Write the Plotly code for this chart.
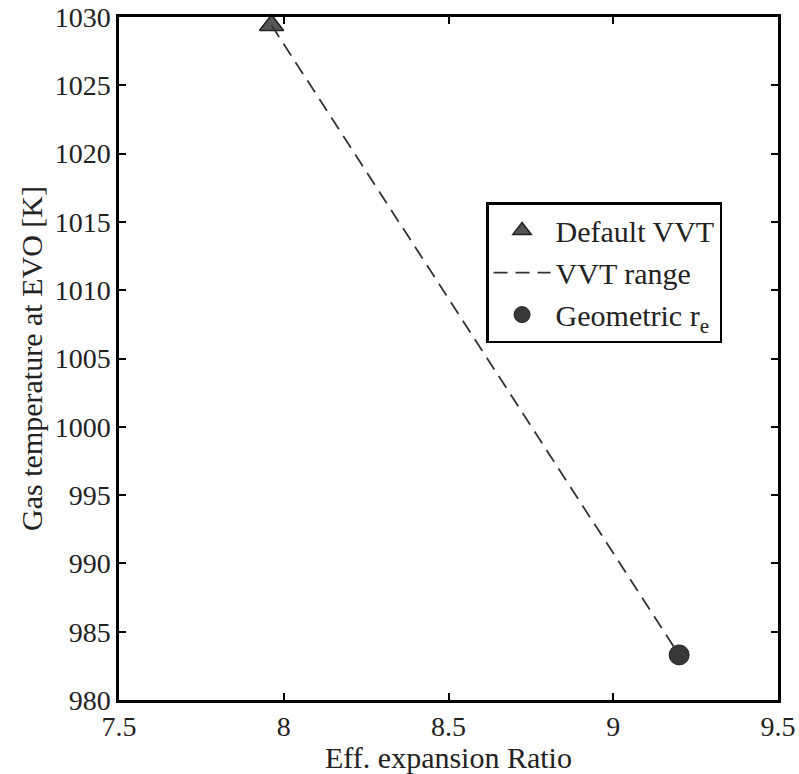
import plotly.graph_objects as go

# Data
default_x = [7.963]
default_y = [1029.4]
range_x = [7.963, 9.2]
range_y = [1029.4, 983.3]
geom_x = [9.2]
geom_y = [983.3]

x_ticks = [7.5, 8, 8.5, 9, 9.5]
x_tick_text = ["7.5", "8", "8.5", "9", "9.5"]
y_ticks = [980, 985, 990, 995, 1000, 1005, 1010, 1015, 1020, 1025, 1030]
y_tick_text = [str(v) for v in y_ticks]

FONT = "Liberation Serif, serif"

fig = go.Figure()
fig.add_trace(go.Scatter(
    x=default_x, y=default_y, mode="markers", name="Default VVT",
    cliponaxis=False,
    marker=dict(symbol="triangle-up", size=21, color="#555555",
                line=dict(color="#222222", width=1.5)),
))
fig.add_trace(go.Scatter(
    x=range_x, y=range_y, mode="lines", name="VVT range",
    line=dict(color="#333333", width=1.8, dash="14px,8px"),
))
fig.add_trace(go.Scatter(
    x=geom_x, y=geom_y, mode="markers", name="Geometric r<sub>e</sub>",
    cliponaxis=False,
    marker=dict(symbol="circle", size=20, color="#383838",
                line=dict(color="#222222", width=1)),
))

axis_common = dict(
    showline=True, linecolor="black", linewidth=2.5, mirror="ticks",
    ticks="inside", ticklen=7, tickwidth=2, tickcolor="black",
    showgrid=False, zeroline=False, automargin=False,
    tickfont=dict(family=FONT, size=28, color="#222222"),
)

fig.update_layout(
    width=799, height=774,
    margin=dict(l=119, r=21, t=17, b=74, autoexpand=False),
    paper_bgcolor="white", plot_bgcolor="white",
    font=dict(family=FONT, color="#222222"),
    xaxis=dict(range=[7.5, 9.5], tickvals=x_ticks, ticktext=x_tick_text,
               title=dict(text="Eff. expansion Ratio", font=dict(family=FONT, size=30), standoff=2),
               **axis_common),
    yaxis=dict(range=[980, 1030], tickvals=y_ticks, ticktext=y_tick_text,
               title=dict(text="Gas temperature at EVO [K]", font=dict(family=FONT, size=30), standoff=4),
               **axis_common),
    legend=dict(
        x=0.557, y=0.729, xanchor="left", yanchor="top",
        bgcolor="white", bordercolor="black", borderwidth=2.5,
        font=dict(family=FONT, size=30, color="#222222"),
        itemwidth=57, tracegroupgap=0,
    ),
    showlegend=True,
)

fig.write_html("out.html")
